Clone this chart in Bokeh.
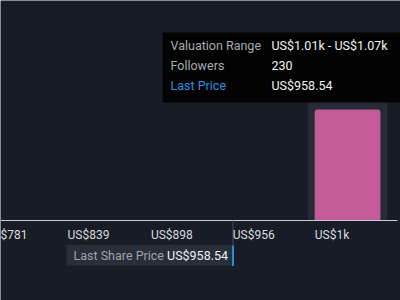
from bokeh.plotting import figure
from bokeh.models import Range1d
from bokeh.core.properties import value
from bokeh.embed import file_html
from bokeh.resources import INLINE

# Valuation histogram: one highlighted bin with its follower count
bin_low = [1011.6]
bin_high = [1067.7]
followers = [230]
last_price = 958.54

# Price axis ticks
tick_values = [781, 839, 898, 956, 1014]
tick_labels = ["US$781", "US$839", "US$898", "US$956", "US$1k"]

W, H = 400, 300
X0, X1 = 793.95, 1077.12
Y0, Y1 = -165.77, 455.86

BG = "#171c27"
FONT = value("Roboto")


def sx(px):
    """Screen x (pixels from left) to price."""
    return X0 + px * (X1 - X0) / W


def sy(py):
    """Screen y (pixels from top) to follower units."""
    return Y1 - py * (Y1 - Y0) / H


p = figure(width=W, height=H, output_backend="svg", toolbar_location=None,
           x_range=Range1d(X0, X1), y_range=Range1d(Y0, Y1),
           min_border=0, background_fill_color=BG, border_fill_color=BG,
           outline_line_color=None)
p.axis.visible = False
p.grid.visible = False

# highlighted bin panel and bar
centers = [(lo + hi) / 2 for lo, hi in zip(bin_low, bin_high)]
widths = [hi - lo for lo, hi in zip(bin_low, bin_high)]
panel_top = [f * 1.08 for f in followers]
p.quad(left=bin_low, right=bin_high, bottom=0, top=panel_top,
       fill_color="#262b36", line_color=None)
p.vbar(x=centers, width=[w * 0.83 for w in widths], bottom=0, top=followers,
       fill_color="#c25b98", line_color=None, border_radius=(3, 3, 0, 0))

# baseline
p.segment(x0=[X0], x1=[sx(397)], y0=[0], y1=[0], line_color="#c9ccd1", line_width=1.2)

# last price marker
p.segment(x0=[last_price], x1=[last_price], y0=[0], y1=[sy(245)],
          line_color="#4a4f5a", line_width=1)

# tick labels
p.text(x=tick_values, y=[sy(234)] * len(tick_values), text=tick_labels,
       x_offset=3.4, text_font=FONT, text_font_size="12px",
       text_color="#d9dbde", text_align="left", text_baseline="middle")

# last share price tag
p.quad(left=[sx(66)], right=[last_price], bottom=[sy(265)], top=[sy(244.3)],
       fill_color="#2a2e39", line_color=None)
p.segment(x0=[last_price], x1=[last_price], y0=[sy(245)], y1=[sy(265.5)],
          line_color="#1f8de0", line_width=2)
p.text(x=[sx(73)], y=[sy(254.5)], text=["Last Share Price"], text_font=FONT,
       text_font_size="12.5px", text_color="#9fa3aa", text_align="left",
       text_baseline="middle")
p.text(x=[last_price], y=[sy(254.5)], text=[f"US${last_price:,.2f}"], x_offset=-5,
       text_font=FONT, text_font_size="12.5px", text_color="#eceef0",
       text_align="right", text_baseline="middle")

# hover card for the highlighted bin
p.quad(left=[sx(162)], right=[sx(420)], bottom=[sy(102)], top=[sy(32)],
       fill_color="#030303", line_color=None)
rows_y = [sy(44.5), sy(65), sy(85)]
p.text(x=[sx(170)] * 3, y=rows_y,
       text=["Valuation Range", "Followers", "Last Price"],
       text_font=FONT, text_font_size="12.5px",
       text_color=["#a8acb2", "#a8acb2", "#2a93e0"],
       text_align="left", text_baseline="middle")
range_text = f"US${bin_low[0] / 1000:.2f}k - US${bin_high[0] / 1000:.2f}k"
p.text(x=[sx(271)] * 3, y=rows_y,
       text=[range_text, f"{followers[0]}", f"US${last_price:,.2f}"],
       text_font=FONT, text_font_size="12.5px", text_color="#f2f2f2",
       text_align="left", text_baseline="middle")

open("out.html", "w").write(file_html(p, INLINE))
